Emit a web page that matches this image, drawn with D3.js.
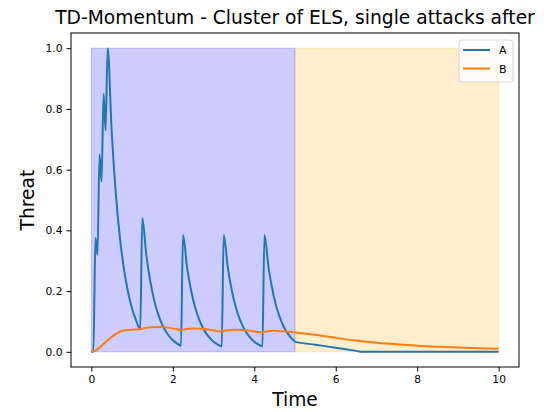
<!DOCTYPE html>
<html>
<head>
<meta charset="utf-8">
<script src="https://cdn.jsdelivr.net/npm/d3@7"></script>
<style>
  html, body { margin: 0; padding: 0; background: #fff; }
  svg { display: block; font-family: "DejaVu Sans", sans-serif; }
</style>
</head>
<body>
<svg id="chart" width="544" height="412"></svg>
<script>
// Threat level of series A (attack spikes with exponential decay)
const timeA = [0, 0.05, 0.1, 0.15, 0.2, 0.25, 0.3, 0.35, 0.4,
  0.5, 0.6, 0.7, 0.8, 0.9, 1.0, 1.1, 1.2,
  1.25, 1.35, 1.45, 1.55, 1.65, 1.75, 1.85, 1.95, 2.05, 2.15, 2.2,
  2.25, 2.35, 2.45, 2.55, 2.65, 2.75, 2.85, 2.95, 3.05, 3.15, 3.2,
  3.25, 3.35, 3.45, 3.55, 3.65, 3.75, 3.85, 3.95, 4.05, 4.15, 4.2,
  4.25, 4.35, 4.45, 4.55, 4.65, 4.75, 4.85, 4.95, 5.0,
  5.5, 6.0, 6.5, 6.65, 7.0, 10];
const threatA = [0, 0, 0.375, 0.32, 0.65, 0.56, 0.85, 0.73, 1.0,
  0.7225, 0.522, 0.377, 0.2725, 0.197, 0.142, 0.1028, 0.0743,
  0.44, 0.318, 0.2297, 0.166, 0.12, 0.0867, 0.0626, 0.0452, 0.0327, 0.0236, 0.020,
  0.385, 0.278, 0.201, 0.145, 0.105, 0.0758, 0.0547, 0.0396, 0.0286, 0.0207, 0.0175,
  0.385, 0.278, 0.201, 0.145, 0.105, 0.0758, 0.0547, 0.0396, 0.0286, 0.0207, 0.0175,
  0.385, 0.278, 0.201, 0.145, 0.105, 0.0758, 0.0547, 0.0396, 0.0337,
  0.0235, 0.0133, 0.0031, 0, 0, 0];

// Threat level of series B (slow momentum)
const timeB = [0, 0.1, 0.2, 0.3, 0.4, 0.5, 0.6, 0.7, 0.8, 0.9, 1.0, 1.2,
  1.25, 1.4, 1.6, 1.8, 2.0, 2.2, 2.3, 2.5, 2.7, 2.9, 3.2, 3.3, 3.5, 3.7, 3.9,
  4.2, 4.3, 4.5, 4.7, 5.0, 5.5, 6.0, 6.5, 7.0, 7.5, 8.0, 8.5, 9.0, 9.5, 10.0];
const threatB = [0, 0.004, 0.014, 0.026, 0.038, 0.049, 0.059, 0.066, 0.070, 0.072, 0.073, 0.074,
  0.076, 0.080, 0.082, 0.081, 0.077, 0.072, 0.074, 0.077, 0.076, 0.073, 0.067, 0.070, 0.073, 0.072, 0.069,
  0.064, 0.067, 0.069, 0.068, 0.064, 0.056, 0.046, 0.037, 0.030, 0.025, 0.020, 0.017, 0.014, 0.012, 0.010];

// Shaded phases: [start, end] in time, spanning threat 0..1
const phaseStart = [0, 5];
const phaseEnd = [5, 10];
const phaseColors = ["rgba(0,0,255,0.2)", "rgba(255,165,0,0.2)"];

const xTicks = [0, 2, 4, 6, 8, 10];
const yTicks = [0.0, 0.2, 0.4, 0.6, 0.8, 1.0];
const seriesNames = ["A", "B"];
const seriesColors = ["#1f77b4", "#ff7f0e"];

const svg = d3.select("#chart");
const plotLeft = 71, plotRight = 519, plotTop = 33, plotBottom = 367;

const x = d3.scaleLinear().domain([-0.5, 10.5]).range([plotLeft, plotRight]);
const y = d3.scaleLinear().domain([-0.05, 1.05]).range([plotBottom, plotTop]);

// Phase backgrounds
svg.append("g").selectAll("rect")
  .data(phaseStart.map((s, i) => ({ s, e: phaseEnd[i], c: phaseColors[i] })))
  .join("rect")
  .attr("x", d => x(d.s))
  .attr("y", y(1))
  .attr("width", d => x(d.e) - x(d.s))
  .attr("height", y(0) - y(1))
  .attr("fill", d => d.c)
  .attr("stroke", d => d.c)
  .attr("stroke-width", 1);

const line = d3.line()
  .x(d => x(d[0]))
  .y(d => y(d[1]))
  .curve(d3.curveMonotoneX);

const seriesData = [
  timeA.map((t, i) => [t, threatA[i]]),
  timeB.map((t, i) => [t, threatB[i]])
];

svg.append("g").selectAll("path")
  .data(seriesData)
  .join("path")
  .attr("d", line)
  .attr("fill", "none")
  .attr("stroke", (d, i) => seriesColors[i])
  .attr("stroke-width", 2)
  .attr("stroke-linejoin", "round");

// Axes
const xAxis = d3.axisBottom(x).tickValues(xTicks).tickFormat(d3.format("d")).tickSizeOuter(0).tickSize(4.5).tickPadding(4);
const yAxis = d3.axisLeft(y).tickValues(yTicks).tickFormat(d3.format(".1f")).tickSizeOuter(0).tickSize(4.5).tickPadding(4);

const gx = svg.append("g").attr("transform", `translate(0,${plotBottom})`).call(xAxis);
const gy = svg.append("g").attr("transform", `translate(${plotLeft},0)`).call(yAxis);
[gx, gy].forEach(g => {
  g.selectAll("text").attr("font-size", 10.7).attr("font-family", "DejaVu Sans").attr("fill", "#000");
  g.selectAll("line").attr("stroke", "#000").attr("stroke-width", 1);
  g.select(".domain").remove();
});

// Frame
svg.append("rect")
  .attr("x", plotLeft).attr("y", plotTop)
  .attr("width", plotRight - plotLeft).attr("height", plotBottom - plotTop)
  .attr("fill", "none").attr("stroke", "#000").attr("stroke-width", 1);

// Title and axis labels
svg.append("text")
  .attr("x", (plotLeft + plotRight) / 2).attr("y", 24)
  .attr("text-anchor", "middle").attr("font-size", 18.7)
  .text("TD-Momentum - Cluster of ELS, single attacks after");

svg.append("text")
  .attr("x", (plotLeft + plotRight) / 2).attr("y", 406)
  .attr("text-anchor", "middle").attr("font-size", 18.7)
  .text("Time");

svg.append("text")
  .attr("transform", `translate(34,${(plotTop + plotBottom) / 2}) rotate(-90)`)
  .attr("text-anchor", "middle").attr("font-size", 18.7)
  .text("Threat");

// Legend
const legend = svg.append("g");
legend.append("rect")
  .attr("x", 459).attr("y", 40).attr("width", 54).attr("height", 42)
  .attr("rx", 3).attr("fill", "rgba(255,255,255,0.8)")
  .attr("stroke", "#d6d6d6").attr("stroke-width", 1);
seriesNames.forEach((name, i) => {
  const ly = 50 + i * 18.5;
  legend.append("line")
    .attr("x1", 463).attr("x2", 490).attr("y1", ly).attr("y2", ly)
    .attr("stroke", seriesColors[i]).attr("stroke-width", 2);
  legend.append("text")
    .attr("x", 499).attr("y", ly + 4)
    .attr("font-size", 11)
    .text(name);
});
</script>
</body>
</html>
